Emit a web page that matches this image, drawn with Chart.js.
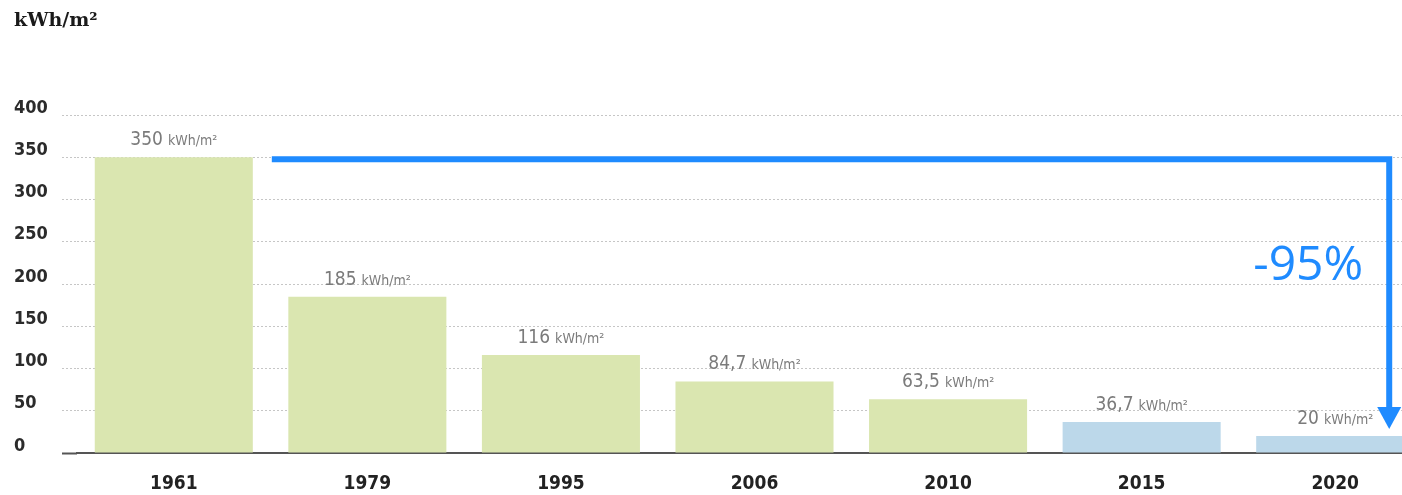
<!DOCTYPE html>
<html>
<head>
<meta charset="utf-8">
<title>Energieverbrauch</title>
<script src="https://cdn.jsdelivr.net/npm/chart.js@4.4.1/dist/chart.umd.min.js"></script>
<style>
  body { margin: 0; overflow: hidden; background: #fff; }
  #wrap { width: 1432px; height: 495px; }
</style>
</head>
<body>
<div id="wrap"><canvas id="energyChart"></canvas></div>
<script>
// heating demand per year of building standard
const years = ['1961', '1979', '1995', '2006', '2010', '2015', '2020'];
const consumption = [350, 185, 116, 84.7, 63.5, 36.7, 20];
const valueLabels = ['350', '185', '116', '84,7', '63,5', '36,7', '20'];
const unit = 'kWh/m²';
const reduction = '-95%';

const green = 'rgb(218,230,176)';
const blue = 'rgb(188,216,234)';
const barColors = [green, green, green, green, green, blue, blue];

const condensed = '"DejaVu Sans Condensed", "Liberation Sans Narrow", sans-serif';
const arrowBlue = '#1f8bff';

// "350 kWh/m²" above each bar
const valueLabelPlugin = {
    id: 'valueLabels',
    afterDatasetsDraw(chart) {
        const ctx = chart.ctx;
        const bars = chart.getDatasetMeta(0).data;
        bars.forEach((bar, i) => {
            ctx.save();
            ctx.fillStyle = '#7b7b7b';
            ctx.textBaseline = 'alphabetic';
            ctx.textAlign = 'left';
            ctx.font = '19px ' + condensed;
            const numW = ctx.measureText(valueLabels[i]).width;
            ctx.font = '14px ' + condensed;
            const unitW = ctx.measureText(unit).width;
            const gap = 5;
            let x = bar.x - (numW + gap + unitW) / 2;
            const y = bar.y - 12;
            ctx.font = '19px ' + condensed;
            ctx.fillText(valueLabels[i], x, y);
            ctx.font = '14px ' + condensed;
            ctx.fillText(unit, x + numW + gap, y);
            ctx.restore();
        });
    }
};

// bracket arrow from the first bar level down to the last bar
const dropArrowPlugin = {
    id: 'dropArrow',
    afterDraw(chart) {
        const ctx = chart.ctx;
        const bars = chart.getDatasetMeta(0).data;
        const first = bars[0];
        const last = bars[bars.length - 1];
        const x0 = first.x + first.width / 2 + 19;
        const x1 = last.x + 54;
        const y0 = first.y + 2;
        const tip = last.y - 7;
        const headH = 22, headW = 24;

        ctx.save();
        ctx.strokeStyle = arrowBlue;
        ctx.fillStyle = arrowBlue;
        ctx.lineWidth = 6;
        ctx.lineJoin = 'miter';
        ctx.beginPath();
        ctx.moveTo(x0, y0);
        ctx.lineTo(x1, y0);
        ctx.lineTo(x1, tip - headH + 1);
        ctx.stroke();

        ctx.beginPath();
        ctx.moveTo(x1 - headW / 2, tip - headH);
        ctx.lineTo(x1 + headW / 2, tip - headH);
        ctx.lineTo(x1, tip);
        ctx.closePath();
        ctx.fill();

        ctx.font = '48px "Open Sans", "Noto Sans", sans-serif';
        ctx.textAlign = 'right';
        ctx.textBaseline = 'alphabetic';
        ctx.fillText(reduction, x1 - 26, y0 + 121);
        ctx.restore();
    }
};

const ctx = document.getElementById('energyChart').getContext('2d');
const energyChart = new Chart(ctx, {
    type: 'bar',
    data: {
        labels: years,
        datasets: [{
            data: consumption,
            backgroundColor: barColors,
            borderWidth: 0,
            barPercentage: 0.8165,
            categoryPercentage: 1
        }]
    },
    options: {
        responsive: true,
        maintainAspectRatio: false,
        animation: false,
        layout: {
            padding: { left: 14, right: 0, top: 0, bottom: 0 }
        },
        plugins: {
            legend: { display: false },
            tooltip: { enabled: false },
            title: {
                display: true,
                text: unit,
                align: 'start',
                color: '#1a1a1a',
                font: { family: '"DejaVu Serif", serif', size: 19, weight: 'bold' },
                padding: { top: 10, bottom: 82.2 }
            }
        },
        scales: {
            x: {
                grid: { display: false },
                border: { display: true, color: '#555', width: 2 },
                ticks: {
                    color: '#222',
                    padding: 12,
                    font: { family: condensed, size: 19, weight: 'bold' }
                },
                afterFit(scale) { scale.height = 42; }
            },
            y: {
                min: 0,
                max: 400,
                ticks: {
                    stepSize: 50,
                    color: '#2b2b2b',
                    crossAlign: 'far',
                    labelOffset: -7,
                    font: { family: condensed, size: 18, weight: 'bold' }
                },
                grid: {
                    color: '#c6c6c6',
                    lineWidth: 1,
                    drawTicks: true,
                    tickLength: 15,
                    tickColor: c => c.tick && c.tick.value === 0 ? '#555' : '#c6c6c6',
                    tickWidth: c => c.tick && c.tick.value === 0 ? 2 : 1,
                    tickBorderDash: c => c.tick && c.tick.value === 0 ? [] : [2, 2]
                },
                border: { display: false, dash: [2, 2] },
                afterFit(scale) { scale.width = 63; }
            }
        }
    },
    plugins: [valueLabelPlugin, dropArrowPlugin]
});
</script>
</body>
</html>
